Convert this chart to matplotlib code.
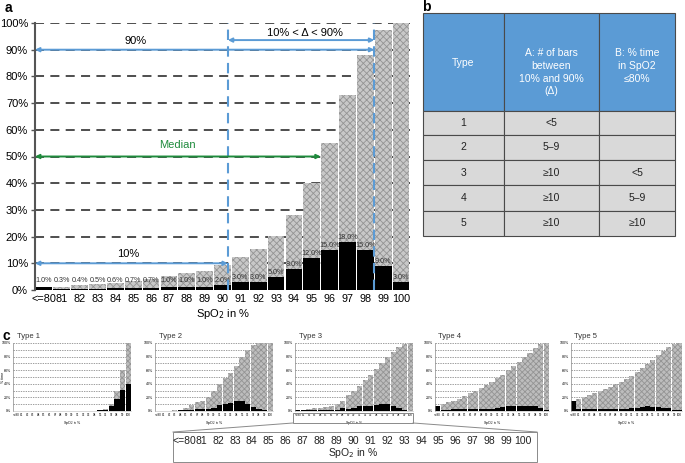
import numpy as np
import matplotlib
matplotlib.use("Agg")
import matplotlib.pyplot as plt
from matplotlib.patches import Rectangle

plt.rcParams['font.family'] = ['Liberation Sans', 'DejaVu Sans']
plt.rcParams['hatch.color'] = '#949494'
plt.rcParams['hatch.linewidth'] = 0.6

# ---- data ----
spo2_labels = ['<=80', '81', '82', '83', '84', '85', '86', '87', '88', '89', '90',
               '91', '92', '93', '94', '95', '96', '97', '98', '99', '100']

# panel a: % time at each SpO2 level
a_time = [1.0, 0.3, 0.4, 0.5, 0.6, 0.7, 0.7, 1.0, 1.0, 1.0, 2.0,
          3.0, 3.0, 5.0, 8.0, 12.0, 15.0, 18.0, 15.0, 9.0, 3.0]

# panel b: classification table
tab_header = ['Type', 'A: # of bars\nbetween\n10% and 90%\n(\u0394)', 'B: % time\nin SpO2\n\u226480%']
tab_type = ['1', '2', '3', '4', '5']
tab_a = ['<5', '5\u20139', '\u226510', '\u226510', '\u226510']
tab_b = ['', '', '<5', '5\u20139', '\u226510']

# panel c: example histograms of the 5 types (time, cumulative)
type_names = ['Type 1', 'Type 2', 'Type 3', 'Type 4', 'Type 5']
type1_time = [0, 0, 0, 0, 0, 0, 0, 0, 0, 0, 0, 0, 0, 0, 0.3, 1, 2, 8, 18, 31, 40]
type1_cum = [0, 0, 0, 0, 0, 0, 0, 0, 0, 0, 0, 0, 0, 0, 0.3, 1.3, 3.3, 11, 29, 60, 100]
type2_time = [0.2, 0.2, 0.3, 0.4, 0.8, 1.5, 2, 2.5, 2.5, 3.5, 5, 9, 11, 12, 14, 14, 11, 6, 2.5, 1, 0.5]
type2_cum = [0.2, 0.4, 0.7, 1.1, 2, 5, 9, 13, 15, 20, 29, 39, 49, 56, 66, 79, 89, 97, 99.5, 100, 100]
type3_time = [1, 1, 1.2, 1.3, 1.5, 1.7, 2, 2, 5, 3, 5, 7, 8, 8, 9.5, 10, 10, 7, 4, 1, 0.5]
type3_cum = [1, 2, 3, 4, 5, 6, 8, 10, 14, 23, 30, 37, 45, 53, 62, 70, 79, 87, 94, 99, 100]
type4_time = [7, 2, 2, 2.5, 2.5, 2.5, 2.5, 2.5, 2.5, 3, 3, 4, 6, 7, 7.5, 8, 7.5, 7, 7, 4, 1]
type4_cum = [7, 10, 13, 15, 18, 22, 26, 30, 34, 38, 43, 48, 53, 60, 66, 72, 79, 86, 93, 98, 100]
type5_time = [14, 3, 3, 3, 3, 3, 3, 3, 3, 3, 3, 4.5, 5, 6, 7, 6, 6, 5, 4, 2, 1]
type5_cum = [14, 17, 20, 23, 27, 30, 33, 36, 40, 43, 47, 52, 57, 63, 69, 75, 82, 88, 94, 98, 100]
types_time = [type1_time, type2_time, type3_time, type4_time, type5_time]
types_cum = [type1_cum, type2_cum, type3_cum, type4_cum, type5_cum]

W, H = 685, 463
fig = plt.figure(figsize=(W / 100, H / 100), dpi=100)


def px_axes(x0, y0, x1, y1):
    # axes from pixel box (top-left origin)
    return fig.add_axes([x0 / W, (H - y1) / H, (x1 - x0) / W, (y1 - y0) / H])


blue = '#5b9bd5'
green = '#1e8b3c'
grid_c = '#404040'

# ---- panel a ----
ax = px_axes(35, 23, 410, 290)
x = np.arange(len(spo2_labels))
a_cum = np.minimum(np.cumsum(a_time), 100)
ax.hlines(range(10, 101, 10), -0.5, 20.5, colors=grid_c, linestyles=(0, (5, 3.5)), lw=1.3, zorder=0)
ax.bar(x, a_cum, width=0.93, color='#c8c8c8', hatch='xxxxx', linewidth=0, zorder=1)
ax.bar(x, a_time, width=0.93, color='black', linewidth=0, zorder=2)
for i, v in enumerate(a_time):
    ax.text(x[i], max(v + 1.6, 3.6), '%.1f%%' % v, ha='center', va='center',
            fontsize=5.2, color='#333333', zorder=3)

ax.set_xlim(-0.5, 20.5)
ax.set_ylim(0, 100)
ax.set_xticks(x)
ax.set_xticklabels(spo2_labels, fontsize=7.8)
ax.tick_params(axis='x', length=0, pad=3)
ax.set_yticks(range(0, 101, 10))
ax.set_yticklabels(['%d%%' % v for v in range(0, 101, 10)], fontsize=8)
ax.tick_params(axis='y', length=3, color='#555555', width=1, pad=2)
for s in ['top', 'right', 'bottom']:
    ax.spines[s].set_visible(False)
ax.spines['left'].set_color('#555555')
ax.spines['left'].set_linewidth(1.5)
ax.set_xlabel('SpO$_2$ in %', fontsize=8, labelpad=2)

x_lo, x_hi = 10.3, 18.5
for xv in [x_lo, x_hi]:
    ax.plot([xv, xv], [0, 100], color=blue, ls=(0, (5, 3)), lw=1.5, zorder=4, clip_on=False)


def darrow(x0, x1, y, c):
    ax.annotate('', xy=(x1, y), xytext=(x0, y),
                arrowprops=dict(arrowstyle='<|-|>', color=c, lw=1.4, mutation_scale=6,
                                shrinkA=0, shrinkB=0), zorder=5)


darrow(-0.5, x_hi, 90, blue)
darrow(-0.5, x_lo, 10, blue)
darrow(-0.5, 15.5, 50, green)
darrow(x_lo, x_hi, 93.6, blue)
ax.text(5.15, 93.3, '90%', ha='center', va='center', fontsize=8, zorder=5)
ax.text(4.7, 13.5, '10%', ha='center', va='center', fontsize=8, zorder=5)
ax.text(7.5, 54.3, 'Median', ha='center', va='center', fontsize=8, color=green, zorder=5)
ax.text(14.6, 96.4, '10% < \u0394 < 90%', ha='center', va='center', fontsize=8, zorder=5)

# ---- panel c: small charts ----
small_left = [13, 155, 295, 435, 571]
small_width = [118, 118, 118, 114, 111]
for k in range(5):
    sx = px_axes(small_left[k], 343, small_left[k] + small_width[k], 411)
    sx.hlines(range(10, 101, 10), -0.5, 20.5, colors='#777777', linestyles=(0, (2, 1.5)), lw=0.5, zorder=0)
    sx.bar(x, types_cum[k], width=0.93, color='#bdbdbd', hatch='xxxxxx', linewidth=0, zorder=1)
    sx.bar(x, types_time[k], width=0.93, color='black', linewidth=0, zorder=2)
    sx.set_xlim(-0.5, 20.5)
    sx.set_ylim(0, 100)
    sx.set_xticks(x)
    sx.set_xticklabels(spo2_labels, fontsize=2.2)
    sx.set_yticks(range(0, 101, 20))
    sx.set_yticklabels(['%d%%' % v for v in range(0, 101, 20)], fontsize=2.6)
    sx.tick_params(length=0, pad=1.5)
    for s in ['top', 'right']:
        sx.spines[s].set_visible(False)
    sx.spines['left'].set_color('#888888')
    sx.spines['left'].set_linewidth(0.5)
    sx.spines['bottom'].set_color('#bbbbbb')
    sx.spines['bottom'].set_linewidth(0.4)
    sx.set_xlabel('SpO$_2$ in %', fontsize=2.6, labelpad=1.5)
    if k == 0:
        sx.set_ylabel('% time', fontsize=2.6)
        sx.yaxis.set_label_coords(-0.07, 0.5)
    sx.text(0.03, 1.1, type_names[k], transform=sx.transAxes, fontsize=5.5,
            ha='left', va='center', color='#333333')

# ---- overlay in pixel coordinates: letters, table, zoom box ----
ov = fig.add_axes([0, 0, 1, 1])
ov.set_xlim(0, W)
ov.set_ylim(H, 0)
ov.axis('off')
ov.patch.set_visible(False)

ov.text(8, 8, 'a', fontsize=10, fontweight='bold', ha='center', va='center')
ov.text(426, 7, 'b', fontsize=10, fontweight='bold', ha='center', va='center')
ov.text(6, 336, 'c', fontsize=10, fontweight='bold', ha='center', va='center')

# table
col_x = [423, 504, 599, 675]
row_y = [13, 111, 135, 160, 185, 211, 236]
for j in range(3):
    ov.add_patch(Rectangle((col_x[j], row_y[0]), col_x[j + 1] - col_x[j], row_y[1] - row_y[0],
                           facecolor=blue, edgecolor='#4a4a4a', lw=0.8))
rows = list(zip(tab_type, tab_a, tab_b))
for i, row in enumerate(rows):
    for j in range(3):
        ov.add_patch(Rectangle((col_x[j], row_y[i + 1]), col_x[j + 1] - col_x[j],
                               row_y[i + 2] - row_y[i + 1],
                               facecolor='#d9d9d9', edgecolor='#4a4a4a', lw=0.8))
        ov.text((col_x[j] + col_x[j + 1]) / 2, (row_y[i + 1] + row_y[i + 2]) / 2, row[j],
                ha='center', va='center', fontsize=7.5, color='#222222')
ov.text((col_x[0] + col_x[1]) / 2, 63, tab_header[0], ha='center', va='center',
        fontsize=7.5, color='white')
for j in [1, 2]:
    ov.text((col_x[j] + col_x[j + 1]) / 2, 48, tab_header[j], ha='center', va='top',
            fontsize=7.5, color='white', linespacing=1.35)

# zoom box
gray_line = '#8a8a8a'
ov.add_patch(Rectangle((293, 413), 120, 10, fill=False, edgecolor=gray_line, lw=0.7))
ov.plot([293, 173], [423, 432], color=gray_line, lw=0.7)
ov.plot([413, 537], [423, 432], color=gray_line, lw=0.7)
ov.add_patch(Rectangle((173, 432), 364, 30, fill=False, edgecolor=gray_line, lw=0.7))
zx = np.linspace(184, 523, len(spo2_labels))
for i, lab in enumerate(spo2_labels):
    ov.text(zx[i], 441, lab, ha='center', va='center', fontsize=7.5, color='#222222')
ov.text(353, 453, 'SpO$_2$ in %', ha='center', va='center', fontsize=7.5, color='#222222')

fig.savefig('out.png', dpi=100)
